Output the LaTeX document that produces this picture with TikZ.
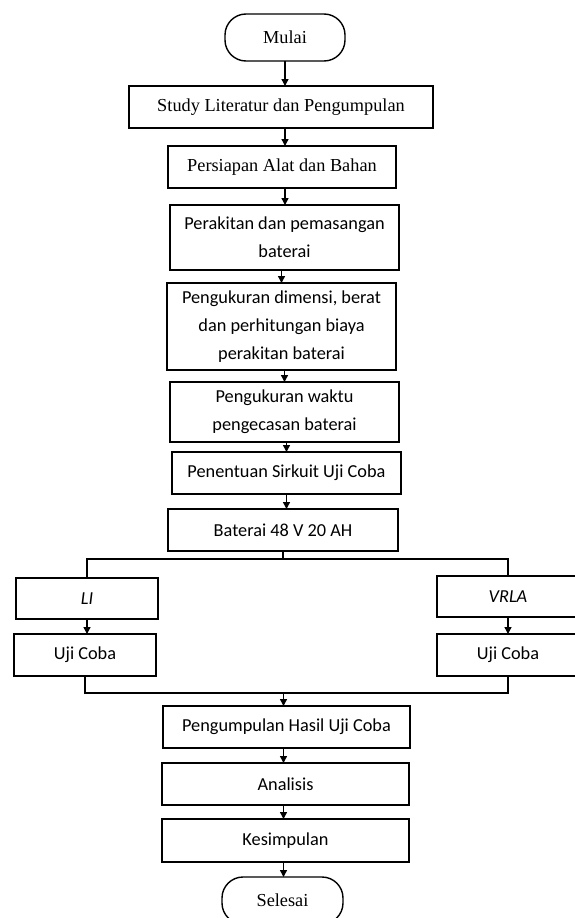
\documentclass[tikz,border=0pt]{standalone}
\usepackage{fontspec}
\setmainfont{Carlito}
\newfontfamily\timesfont{Liberation Serif}
\usetikzlibrary{arrows.meta}
\begin{document}
\begin{tikzpicture}[x=1bp,y=-1bp,
  every node/.style={inner sep=0pt, outer sep=0pt, line width=1.4bp, align=center,
    font=\fontsize{18.3bp}{28bp}\selectfont},
  box/.style={draw, rectangle},
  serifbox/.style={draw, rectangle, font=\timesfont\fontsize{18.3bp}{28bp}\selectfont},
  term/.style={draw, rectangle, rounded corners=21bp, font=\timesfont\fontsize{18.3bp}{28bp}\selectfont},
  arr/.style={line width=1.4bp, -{Triangle[length=7bp,width=7bp]}},
  conn/.style={line width=1.4bp}]
\useasboundingbox (0,0) rectangle (575,918);
\fill[white] (0,0) rectangle (575,918);
\begin{scope}
\clip (0,0) rectangle (575,918);
\node[term, minimum width=120bp, minimum height=47bp] (mulai) at (285,37.5) {Mulai};
\node[serifbox, minimum width=304bp, minimum height=42bp] (study) at (281,107) {Study Literatur dan Pengumpulan};
\node[serifbox, minimum width=228bp, minimum height=42bp] (persiapan) at (282,167) {Persiapan Alat dan Bahan};
\node[box, minimum width=229bp, minimum height=65bp] (perakitan) at (284.5,237.5) {Perakitan dan pemasangan\\baterai};
\node[box, minimum width=229bp, minimum height=87bp] (dimensi) at (281.5,326.5) {Pengukuran dimensi, berat\\dan perhitungan biaya\\perakitan baterai};
\node[box, minimum width=229bp, minimum height=60bp] (waktu) at (284.5,412) {Pengukuran waktu\\pengecasan baterai};
\node[box, minimum width=229bp, minimum height=42bp] (penentuan) at (286.5,473) {Penentuan Sirkuit Uji Coba};
\node[box, minimum width=230bp, minimum height=42bp] (baterai) at (283,530) {Baterai 48 V 20 AH};
\node[box, minimum width=142bp, minimum height=41bp] (li) at (87,598.5) {\itshape LI};
\node[box, minimum width=142bp, minimum height=42bp] (ujiL) at (85,655) {Uji Coba};
\node[box, minimum width=142bp, minimum height=41bp] (vrla) at (508,596.5) {\itshape VRLA};
\node[box, minimum width=142bp, minimum height=42bp] (ujiR) at (508,655) {Uji Coba};
\node[box, minimum width=247bp, minimum height=42bp] (hasil) at (286.5,727) {Pengumpulan Hasil Uji Coba};
\node[box, minimum width=247bp, minimum height=42bp] (analisis) at (285.5,784) {Analisis};
\node[box, minimum width=247bp, minimum height=43bp] (kesimpulan) at (285.5,840.5) {Kesimpulan};
\node[term, minimum width=121bp, minimum height=47bp] (selesai) at (282.5,900.5) {Selesai};
\coordinate (split) at (283,559);
\coordinate (merge) at (283.5,693);
\draw[arr] (mulai.south) -- (mulai.south |- study.north);
\draw[arr] (mulai.south |- study.south) -- (mulai.south |- persiapan.north);
\draw[arr] (mulai.south |- persiapan.south) -- (mulai.south |- perakitan.north);
\draw[arr] (dimensi.north |- perakitan.south) -- (dimensi.north);
\draw[arr] (perakitan.south |- dimensi.south) -- (perakitan.south |- waktu.north);
\draw[arr] (penentuan.north |- waktu.south) -- (penentuan.north);
\draw[arr] (penentuan.south) -- (penentuan.south |- baterai.north);
\draw[conn] (baterai.south) -- (split);
\draw[conn] (li.north) |- (split) -| (vrla.north);
\draw[arr] (li.south) -- (li.south |- ujiL.north);
\draw[arr] (vrla.south) -- (ujiR.north);
\draw[conn] (ujiL.south) |- (merge) -| (ujiR.south);
\draw[arr] (merge) -- (merge |- hasil.north);
\draw[arr] (merge |- hasil.south) -- (merge |- analisis.north);
\draw[arr] (merge |- analisis.south) -- (merge |- kesimpulan.north);
\draw[arr] (merge |- kesimpulan.south) -- (merge |- selesai.north);
\end{scope}
\end{tikzpicture}
\end{document}
